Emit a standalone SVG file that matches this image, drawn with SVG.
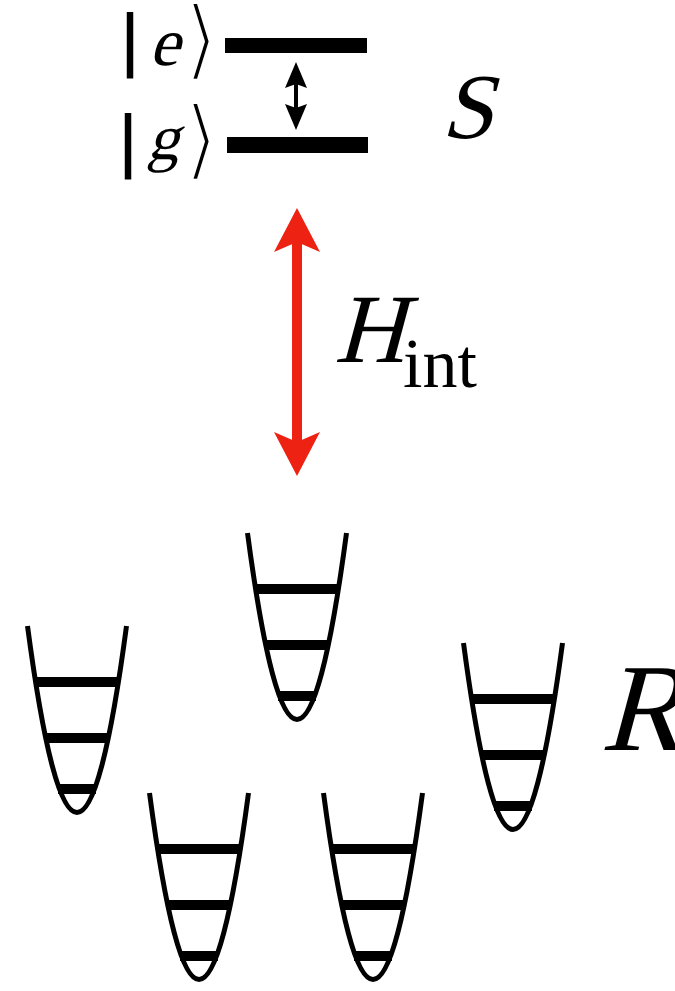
<svg xmlns="http://www.w3.org/2000/svg" width="675" height="991" viewBox="0 0 675 991">
<style>
.well{fill:none;stroke:#000;stroke-width:5}
.lvl{stroke:#000;stroke-width:10}
.bar{fill:#000}
.serif{font-family:"Liberation Serif",serif;fill:#000}
.vbar{font-family:"Liberation Serif",serif;font-size:70px;stroke:#000;stroke-width:3}
.ang{font-family:"DejaVu Sans",sans-serif;font-size:88px;font-weight:200;fill:#000;stroke:#fff;stroke-width:3.5}
</style>
<rect width="675" height="991" fill="#fff"/>
<g id="level-e"><rect class="bar" x="225" y="38" width="142" height="15"/></g>
<g id="level-g"><rect class="bar" x="227" y="137" width="141" height="16"/></g>
<g id="ket-e" class="serif">
<text class="vbar" x="123" y="62">|</text>
<text transform="translate(149,65) skewX(-15)" font-size="68">e</text>
<text class="ang" x="184" y="69">⟩</text>
</g>
<g id="ket-g" class="serif">
<text class="vbar" x="121" y="163">|</text>
<text transform="translate(147,159) skewX(-15)" font-size="64">g</text>
<text class="ang" x="184" y="169">⟩</text>
</g>
<g id="label-S"><text class="serif" transform="translate(441,138) skewX(-15)" font-size="93">S</text></g>
<g id="connectors">
<g id="transition">
<line x1="296" y1="82" x2="296" y2="110" stroke="#000" stroke-width="4"/>
<path d="M296 62 L307 88 L296 84 L285 88 Z" fill="#000"/>
<path d="M296 130 L307 104 L296 108 L285 104 Z" fill="#000"/>
</g>
<g id="interaction">
<line x1="297" y1="238" x2="297" y2="446" stroke="#EE2212" stroke-width="10"/>
<path d="M297 208 L320 252 L297 242 L274 252 Z" fill="#EE2212"/>
<path d="M297 476 L320 432 L297 442 L274 432 Z" fill="#EE2212"/>
</g>
</g>
<g id="label-Hint" class="serif">
<text transform="translate(334,362) skewX(-15)" font-size="98">H</text>
<text x="403" y="387" font-size="70">int</text>
</g>
<g id="well1" transform="translate(77,626)">
<path class="well" d="M-49.5 0 Q0 373 49.5 0"/>
<line class="lvl" x1="-41" y1="56" x2="41" y2="56"/>
<line class="lvl" x1="-31" y1="112" x2="31" y2="112"/>
<line class="lvl" x1="-19" y1="163" x2="19" y2="163"/>
</g>
<g id="well2" transform="translate(297,533)">
<path class="well" d="M-49.5 0 Q0 373 49.5 0"/>
<line class="lvl" x1="-41" y1="56" x2="41" y2="56"/>
<line class="lvl" x1="-31" y1="112" x2="31" y2="112"/>
<line class="lvl" x1="-19" y1="163" x2="19" y2="163"/>
</g>
<g id="well3" transform="translate(199,793)">
<path class="well" d="M-49.5 0 Q0 373 49.5 0"/>
<line class="lvl" x1="-41" y1="56" x2="41" y2="56"/>
<line class="lvl" x1="-31" y1="112" x2="31" y2="112"/>
<line class="lvl" x1="-19" y1="163" x2="19" y2="163"/>
</g>
<g id="well4" transform="translate(373,793)">
<path class="well" d="M-49.5 0 Q0 373 49.5 0"/>
<line class="lvl" x1="-41" y1="56" x2="41" y2="56"/>
<line class="lvl" x1="-31" y1="112" x2="31" y2="112"/>
<line class="lvl" x1="-19" y1="163" x2="19" y2="163"/>
</g>
<g id="well5" transform="translate(513,643)">
<path class="well" d="M-49.5 0 Q0 373 49.5 0"/>
<line class="lvl" x1="-41" y1="56" x2="41" y2="56"/>
<line class="lvl" x1="-31" y1="112" x2="31" y2="112"/>
<line class="lvl" x1="-19" y1="163" x2="19" y2="163"/>
</g>
<g id="label-R"><text class="serif" transform="translate(600,750) skewX(-15)" font-size="125">R</text></g>
</svg>
